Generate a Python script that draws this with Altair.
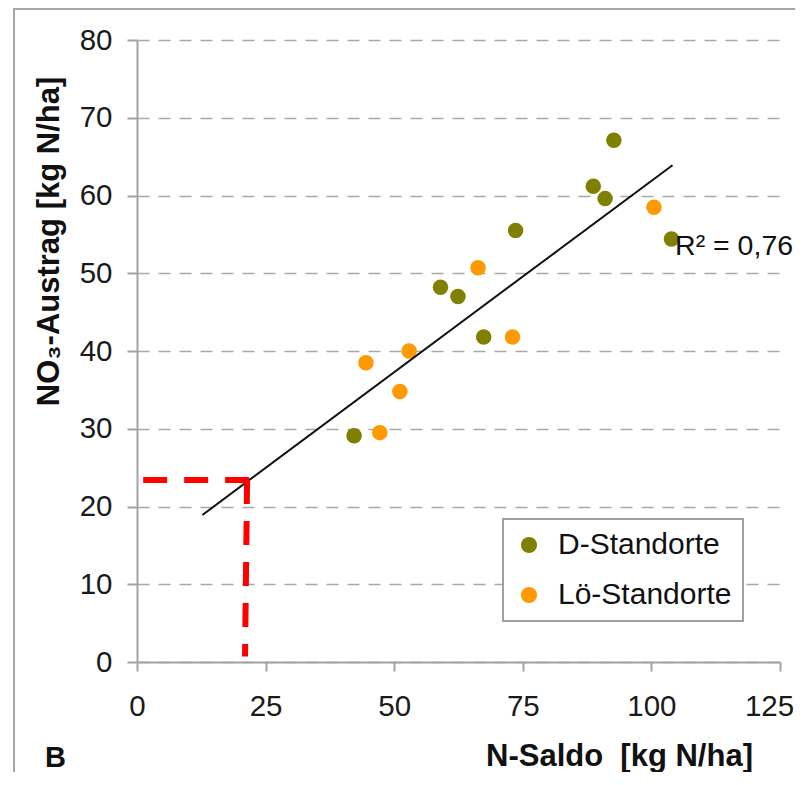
import altair as alt
import pandas as pd

# ---- data ----
d_x = [42.2, 59.0, 62.4, 67.4, 73.6, 88.7, 91.0, 92.7, 103.9]
d_y = [29.1, 48.2, 47.0, 41.8, 55.5, 61.2, 59.6, 67.1, 54.4]
lo_x = [44.5, 47.2, 51.1, 52.9, 66.3, 73.0, 100.5]
lo_y = [38.5, 29.5, 34.8, 40.0, 50.7, 41.8, 58.5]
series = ["D-Standorte", "Lö-Standorte"]
colors = ["#808000", "#ff9900"]

trend_x = [12.7, 104.1]
trend_y = [18.9, 63.9]

r2_text = ["R² = 0,76"]
r2_x = [104.6]
r2_y = [52.3]

# red reading lines (horizontal then vertical)
red_x = [1.2, 21.4]
red_x2 = [21.8, 21.0]
red_y = [23.4, 23.4]
red_y2 = [23.4, 0.7]

x_ticks = [0, 25, 50, 75, 100, 125]
y_ticks = [0, 10, 20, 30, 40, 50, 60, 70, 80]

pts = pd.DataFrame({
    "x": d_x + lo_x,
    "y": d_y + lo_y,
    "series": [series[0]] * len(d_x) + [series[1]] * len(lo_x),
})
trend = pd.DataFrame({"x": trend_x, "y": trend_y})
r2 = pd.DataFrame({"x": r2_x, "y": r2_y, "t": r2_text})
red = pd.DataFrame({"x": red_x, "x2": red_x2, "y": red_y, "y2": red_y2})

FONT = "Liberation Sans"
GRAY = "#a3a3a3"

xs = alt.Scale(domain=[0, 125], nice=False, zero=False)
ys = alt.Scale(domain=[0, 80], nice=False, zero=False)

xaxis = alt.Axis(
    values=x_ticks, grid=False, labelFlush=False,
    title="N-Saldo\u00a0 [kg N/ha]", titleFontSize=31, titleFontWeight="bold",
    titleColor="#111111", titleX=482, titleY=103, titleAlign="center",
    titleBaseline="alphabetic",
    labelFontSize=29.5, labelColor="#1a1a1a", labelPadding=21,
    labelOffset=alt.condition("datum.value == 125", alt.value(-11), alt.value(0)),
    tickSize=9, tickColor=GRAY, tickWidth=2, domainColor=GRAY, domainWidth=2,
)
yaxis = alt.Axis(
    values=y_ticks, grid=True, gridDash=[12, 9], gridColor="#a8a8a8", gridWidth=1.6,
    title="NO₃-Austrag [kg N/ha]", titleFontSize=31, titleFontWeight="bold",
    titleColor="#111111", titleAngle=270, titleX=-79, titleY=201,
    titleAlign="center", titleBaseline="alphabetic",
    labelFontSize=29.5, labelColor="#1a1a1a", labelPadding=15,
    tickSize=10, tickColor=GRAY, tickWidth=2, domainColor=GRAY, domainWidth=2,
)

X = alt.X("x:Q", scale=xs, axis=xaxis)
Y = alt.Y("y:Q", scale=ys, axis=yaxis)

points = alt.Chart(pts).mark_circle(size=240, opacity=1).encode(
    x=X, y=Y,
    color=alt.Color(
        "series:N",
        scale=alt.Scale(domain=series, range=colors),
        legend=alt.Legend(
            title=None, orient="none", legendX=366, legendY=479,
            symbolType="circle", symbolSize=260, symbolStrokeWidth=0,
            symbolOpacity=1,
            labelFont=FONT, labelFontSize=30, labelColor="#111111",
            labelLimit=400,
            labelOffset=14, rowPadding=20, padding=11,
            strokeColor="#a0a0a0", fillColor="white",
        ),
    ),
)

line = alt.Chart(trend).mark_line(color="#111111", strokeWidth=2).encode(x=X, y=Y)

redlines = alt.Chart(red).mark_rule(
    color="#ff0000", strokeWidth=6, strokeDash=[24, 17], strokeCap="butt"
).encode(x=X, x2="x2:Q", y=Y, y2="y2:Q")

r2label = alt.Chart(r2).mark_text(
    align="left", baseline="alphabetic", fontSize=28.5, font=FONT, color="#111111"
).encode(x=X, y=Y, text="t:N")

blabel = alt.Chart(pd.DataFrame({"t": ["B"]})).mark_text(
    align="left", baseline="alphabetic", fontSize=29, fontWeight="bold",
    font=FONT, color="#111111"
).encode(x=alt.value(-92), y=alt.value(727), text="t:N")

frame_left = alt.Chart(pd.DataFrame({"a": [0]})).mark_rule(
    color="#a6a6a6", strokeWidth=2
).encode(x=alt.value(-123), y=alt.value(-40), y2=alt.value(760))
frame_top = alt.Chart(pd.DataFrame({"a": [0]})).mark_rule(
    color="#a6a6a6", strokeWidth=2
).encode(x=alt.value(-124), x2=alt.value(700), y=alt.value(-31))

chart = alt.layer(
    frame_left, frame_top, points, line, redlines, r2label, blabel
).properties(
    width=643, height=622,
    autosize=alt.AutoSizeParams(type="none"),
    padding={"left": 129, "top": 32, "right": 15, "bottom": 110},
).configure(
    font=FONT,
).configure_view(
    stroke=None,
).configure_legend(
    strokeWidth=2,
)

chart.save("out.html", embed_options={"renderer": "svg", "actions": False})
